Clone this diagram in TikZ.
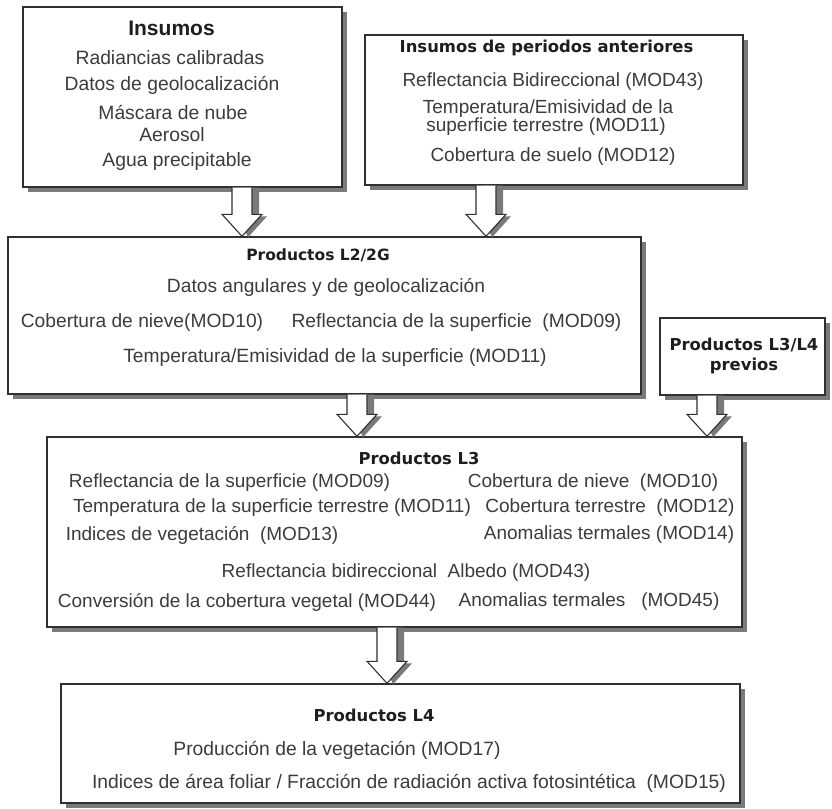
\documentclass[tikz,border=0pt]{standalone}
\usepackage{fontspec}
\setmainfont{Liberation Sans}
\newfontfamily\headfont{DejaVu Sans}
\usetikzlibrary{calc,shadows}

\definecolor{boxline}{HTML}{303030}
\definecolor{shadowgray}{HTML}{7A7A7A}
\definecolor{bodytext}{HTML}{3C3C3C}
\definecolor{headtext}{HTML}{1E1E1E}

\newcommand\fsz[1]{\fontsize{#1}{#1}\selectfont}

\tikzset{
  panel/.style={draw=boxline, line width=1.4pt, fill=white, inner sep=0pt,
    drop shadow={shadow xshift=5pt, shadow yshift=-5pt, fill=shadowgray, opacity=1}},
  head/.style={text=headtext, inner sep=0pt, font=\headfont\bfseries\fsz{16.4}},
  item/.style={text=bodytext, inner sep=0pt, font=\fsz{19}},
  blockarrow/.style={draw=boxline, line width=1.1pt, fill=white, line join=miter},
  blockshade/.style={fill=shadowgray},
}

% hollow down arrow from #1 (tail) to #2 (tip), with a grey shadow
\newcommand\downblock[2]{%
  \fill[blockshade] ($(#1)+(-4pt,0pt)$) -- ($(#2)+(-4pt,22pt)$) -- ($(#2)+(6pt,-1pt)$)
     -- ($(#2)+(25pt,20pt)$) -- ($(#2)+(17pt,20pt)$) -- ($(#1)+(17pt,0pt)$) -- cycle;
  \draw[blockarrow] ($(#1)+(-10pt,0pt)$) -- ($(#2)+(-10pt,22pt)$) -- ($(#2)+(-20pt,22pt)$)
     -- (#2) -- ($(#2)+(20pt,22pt)$) -- ($(#2)+(10pt,22pt)$) -- ($(#1)+(10pt,0pt)$);
}

\begin{document}
\begin{tikzpicture}[x=1pt, y=-1pt]
\useasboundingbox (0,0) rectangle (832,808);

% boxes
\node[panel, minimum width=319pt, minimum height=180pt] (insumos) at (182.5,97) {};
\node[panel, minimum width=378pt, minimum height=150pt] (previos) at (554,110) {};
\node[panel, minimum width=633pt, minimum height=157pt] (ldos) at (324.5,315.5) {};
\node[panel, minimum width=165pt, minimum height=77pt] (lprev) at (742.5,356.5) {};
\node[panel, minimum width=695pt, minimum height=190pt] (ltres) at (394.5,532) {};
\node[panel, minimum width=679pt, minimum height=119pt] (lcuatro) at (400.5,743.5) {};

% arrow columns
\coordinate (ca) at (242,0);
\coordinate (cb) at (486,0);
\coordinate (cc) at (357,0);
\coordinate (cd) at (707,0);
\coordinate (ce) at (387,0);

\downblock{insumos.south -| ca}{ldos.north -| ca}
\downblock{previos.south -| cb}{ldos.north -| cb}
\downblock{ldos.south -| cc}{ltres.north -| cc}
\downblock{lprev.south -| cd}{ltres.north -| cd}
\downblock{ltres.south -| ce}{lcuatro.north -| ce}

% Insumos
\node[head, font=\bfseries\fsz{21}] (t1) at (171.5,28) {Insumos};
\node[item, font=\fsz{19.3}] (i1a) at (170,58) {Radiancias calibradas};
\node[item, font=\fsz{19.3}] (i1b) at (172,85) {Datos de geolocalización};
\node[item, font=\fsz{19.3}] (i1c) at (173,112) {Máscara de nube};
\node[item, font=\fsz{19.3}] (i1d) at (172,135) {Aerosol};
\node[item, font=\fsz{19.3}] (i1e) at (177,162) {Agua precipitable};

% Insumos de periodos anteriores
\node[head] (t2) at (546.5,48) {Insumos de periodos anteriores};
\node[item] (i2a) at (553,82) {Reflectancia Bidireccional (MOD43)};
\node[item] (i2b) at (548,109) {Temperatura/Emisividad de la};
\node[item] (i2c) at (546,127) {superficie terrestre (MOD11)};
\node[item] (i2d) at (553,157) {Cobertura de suelo (MOD12)};

% Productos L2/2G
\node[head, font=\headfont\bfseries\fsz{15.5}] (t3) at (318,255) {Productos L2/2G};
\node[item, font=\fsz{19.2}] (i3a) at (326,287) {Datos angulares y de geolocalización};
\node[item, font=\fsz{19.2}] (i3b) at (142,323) {Cobertura de nieve(MOD10)};
\node[item, font=\fsz{19.2}] (i3c) at (456.5,323) {Reflectancia de la superficie \ (MOD09)};
\node[item, font=\fsz{19.2}] (i3d) at (335,358) {Temperatura/Emisividad de la superficie (MOD11)};

% Productos L3/L4 previos
\node[head, align=center] (t4) at (744,356) {Productos L3/L4\\[3pt]previos};

% Productos L3
\node[head] (t5) at (419,458) {Productos L3};
\node[item] (i5a) at (229.5,483) {Reflectancia de la superficie (MOD09)};
\node[item] (i5b) at (593,483) {Cobertura de nieve \ (MOD10)};
\node[item] (i5c) at (272,508) {Temperatura de la superficie terrestre (MOD11)};
\node[item] (i5d) at (610,508) {Cobertura terrestre \ (MOD12)};
\node[item] (i5e) at (202,535) {Indices de vegetación \ (MOD13)};
\node[item] (i5f) at (609,535) {Anomalias termales (MOD14)};
\node[item] (i5g) at (406,573) {Reflectancia bidireccional \ Albedo (MOD43)};
\node[item] (i5h) at (247,602) {Conversión de la cobertura vegetal (MOD44)};
\node[item] (i5i) at (589,602) {Anomalias termales \ \ (MOD45)};

% Productos L4
\node[head] (t6) at (374,715) {Productos L4};
\node[item, font=\fsz{19.3}] (i6a) at (337,750) {Producción de la vegetación (MOD17)};
\node[item, font=\fsz{19.3}] (i6b) at (409,783) {Indices de área foliar / Fracción de radiación activa fotosintética \ (MOD15)};
\end{tikzpicture}
\end{document}
